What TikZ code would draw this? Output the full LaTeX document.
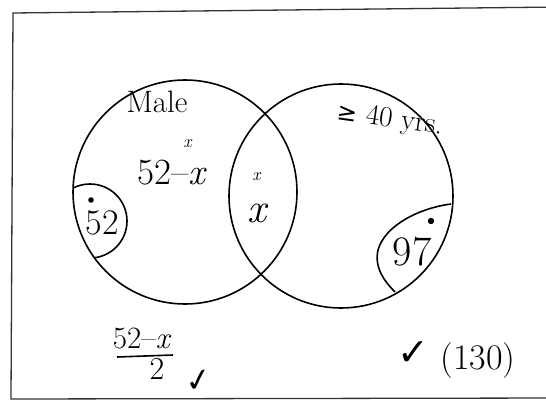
\documentclass[tikz,border=0pt]{standalone}
\usepackage{fontspec}
\newfontfamily\checkfont{DejaVu Sans}
\begin{document}
\begin{tikzpicture}[x=1pt,y=1pt,line width=1.6pt,
  big/.style={font=\fontsize{37}{40}\selectfont},
  mid/.style={font=\fontsize{31}{34}\selectfont},
  tiny/.style={font=\fontsize{18}{20}\selectfont,inner sep=0pt}]
\useasboundingbox (0,0) rectangle (546,400);
% frame
\draw[line width=1.3pt,black!80] (560,393) -- (13,387) -- (11,1) -- (560,2);
% sets
\draw (185,208) circle (112pt);
\draw (341,204) circle (112pt);
\begin{scope}
\clip (185,208) circle (112pt);
\draw (90,179) circle (37pt);
\end{scope}
\draw (451,196) .. controls (420,192) and (385,175) .. (378,150)
  .. controls (374,132) and (385,118) .. (395,108);
\fill (91,200) circle (2.8pt);
\fill (431,179) circle (3.2pt);
% labels
\node[mid] (male) at (157,298) {Male};
\node[font=\fontsize{29}{32}\selectfont,rotate=-8] (old) at (390,280) {{\checkfont\fontsize{24}{26}\selectfont ≥} 40 yrs.};
\node[tiny] (m1) at (188,256) {\textit{x}};
\node[big] (onlymale) at (172,227) {52–\textit{x}};
\node[tiny] (m2) at (257,223) {\textit{x}};
\node[font=\fontsize{42}{44}\selectfont,inner sep=0pt] (both) at (258,187) {\textit{x}};
\node[font=\fontsize{36}{40}\selectfont] (inner) at (102,177) {52};
\node[font=\fontsize{42}{44}\selectfont] (outer) at (412,148) {97};
% working below
\node[mid] (num) at (142,62) {52–\textit{x}};
\coordinate (barl) at (117,43);
\coordinate (barr) at (173,45);
\draw (barl) -- (barr);
\node[font=\fontsize{32}{34}\selectfont] (den) at (157,31) {2};
\node[font=\checkfont\fontsize{32}{34}\selectfont,rotate=10] (tick) at (199,19) {✓};
\node[font=\checkfont\fontsize{38}{40}\selectfont] (tick2) at (413,46) {✓};
\node[font=\fontsize{36}{40}\selectfont] (total) at (478,39) {(130)};
\end{tikzpicture}
\end{document}
